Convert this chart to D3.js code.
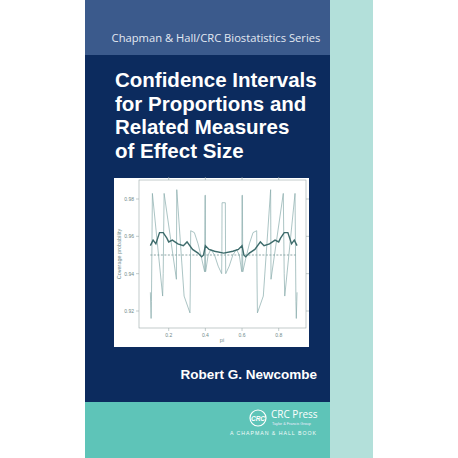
<!DOCTYPE html>
<html><head><meta charset="utf-8">
<script src="https://cdn.jsdelivr.net/npm/d3@7"></script>
<style>body{margin:0;background:#fff}</style>
</head><body>
<svg id="c" width="458" height="458"></svg>
<script>
// coverage curves, left half (pi <= 0.5); right half is the mirror image
var jaggedPi  = [0.100,0.104,0.106,0.111,0.167,0.170,0.175,0.242,0.244,0.284,0.316,0.318,0.320,0.340,0.360,0.380,0.396,0.398,0.400,0.401,0.403,0.415,0.430,0.450,0.470,0.489,0.490,0.491]
var jaggedCov = [0.930,0.916,0.925,0.983,0.928,0.940,0.983,0.937,0.985,0.928,0.919,0.935,0.963,0.962,0.956,0.948,0.941,0.982,0.982,0.941,0.942,0.950,0.953,0.950,0.944,0.940,0.950,0.978]
var meanPi  = [0.100,0.115,0.130,0.150,0.170,0.190,0.200,0.220,0.250,0.280,0.300,0.330,0.360,0.380,0.390,0.400,0.420,0.450,0.500]
var meanCov = [0.955,0.958,0.956,0.962,0.962,0.959,0.957,0.958,0.956,0.955,0.957,0.953,0.951,0.949,0.950,0.955,0.953,0.952,0.951]
var xTicks = [0.2,0.4,0.6,0.8]
var yTicks = [0.92,0.94,0.96,0.98]
var titleLines = ['Confidence Intervals','for Proportions and','Related Measures','of Effect Size']

function mirror(px, py) {
	var pts = px.map(function(d,i){ return [d, py[i]] })
	var back = pts.slice().reverse().map(function(d){ return [1 - d[0], d[1]] })
	return pts.concat(back)
}

var svg = d3.select('#c')
var F = 'Liberation Sans, Arial, sans-serif'

// cover blocks
svg.append('rect').attr('x',85).attr('y',0).attr('width',245).attr('height',55).attr('fill','#3b5a8c')
svg.append('rect').attr('x',85).attr('y',55).attr('width',245).attr('height',347).attr('fill','#0c2b5e')
svg.append('rect').attr('x',85).attr('y',402).attr('width',245).attr('height',56).attr('fill','#5ec4b8')
svg.append('rect').attr('x',330).attr('y',0).attr('width',43).attr('height',458).attr('fill','#b3e0da')

svg.append('text').attr('x',216).attr('y',42).attr('text-anchor','middle')
	.attr('font-family','Open Sans, sans-serif').attr('font-size',11.2).attr('fill','#e3e9f2')
	.text('Chapman & Hall/CRC Biostatistics Series')

svg.selectAll('.t').data(titleLines).enter().append('text')
	.attr('x',115).attr('y',function(d,i){ return 87 + i*23.5 })
	.attr('font-family',F).attr('font-weight','bold').attr('font-size',20.5).attr('fill','#fff')
	.text(function(d){ return d })

// chart panel
svg.append('rect').attr('x',114).attr('y',178).attr('width',195).attr('height',169).attr('fill','#fff')

var x = d3.scaleLinear().domain([0.2,0.8]).range([168.7,278.7])
var y = d3.scaleLinear().domain([0.92,0.98]).range([311,199])
var x0 = 139, x1 = 306, y0 = 180, y1 = 328

var g = svg.append('g')
g.append('rect').attr('x',x0).attr('y',y0).attr('width',x1-x0).attr('height',y1-y0)
	.attr('fill','none').attr('stroke','#9aa9a9').attr('stroke-width',0.6)

var tk = g.append('g').attr('stroke','#9aa9a9').attr('stroke-width',0.6)
xTicks.forEach(function(t){
	tk.append('line').attr('x1',x(t)).attr('x2',x(t)).attr('y1',y1).attr('y2',y1+3)
	tk.append('line').attr('x1',x(t)).attr('x2',x(t)).attr('y1',y0).attr('y2',y0-3)
	g.append('text').attr('x',x(t)).attr('y',y1+9).attr('text-anchor','middle')
		.attr('font-family',F).attr('font-size',5).attr('fill','#6f8a8a').text(t.toFixed(1))
})
yTicks.forEach(function(t){
	tk.append('line').attr('x1',x0).attr('x2',x0-3).attr('y1',y(t)).attr('y2',y(t))
	tk.append('line').attr('x1',x1).attr('x2',x1+3).attr('y1',y(t)).attr('y2',y(t))
	g.append('text').attr('x',x0-5).attr('y',y(t)+2).attr('text-anchor','end')
		.attr('font-family',F).attr('font-size',5).attr('fill','#6f8a8a').text(t.toFixed(2))
})
g.append('text').attr('x',222).attr('y',342).attr('text-anchor','middle')
	.attr('font-family',F).attr('font-size',5.5).attr('fill','#6f8a8a').text('pi')
g.append('text').attr('transform','translate(121,254) rotate(-90)').attr('text-anchor','middle')
	.attr('font-family',F).attr('font-size',5.5).attr('fill','#6f8a8a').text('Coverage probability')

var line = d3.line().x(function(d){ return x(d[0]) }).y(function(d){ return y(d[1]) })

g.append('line').attr('x1',x(0.1)).attr('x2',x(0.9)).attr('y1',y(0.95)).attr('y2',y(0.95))
	.attr('stroke','#6f8f8f').attr('stroke-width',0.8).attr('stroke-dasharray','2,1.5')
g.append('path').datum(mirror(jaggedPi, jaggedCov)).attr('d',line)
	.attr('fill','none').attr('stroke','#86aaaa').attr('stroke-width',0.7)
g.append('path').datum(mirror(meanPi, meanCov)).attr('d',line)
	.attr('fill','none').attr('stroke','#3d6b6b').attr('stroke-width',1.4)

// author and publisher
svg.append('text').attr('x',317).attr('y',379).attr('text-anchor','end')
	.attr('font-family',F).attr('font-weight','bold').attr('font-size',13.5).attr('fill','#fff')
	.text('Robert G. Newcombe')

svg.append('circle').attr('cx',258).attr('cy',418).attr('r',8)
	.attr('fill','none').attr('stroke','#fff').attr('stroke-width',1.2)
svg.append('text').attr('x',258).attr('y',420.5).attr('text-anchor','middle')
	.attr('font-family',F).attr('font-style','italic').attr('font-weight','bold').attr('font-size',6.5).attr('fill','#fff').text('CRC')
svg.append('text').attr('x',271).attr('y',418).attr('font-family','Open Sans, sans-serif')
	.attr('font-size',10).attr('fill','#fff').text('CRC Press')
svg.append('text').attr('x',272).attr('y',425).attr('font-family',F)
	.attr('font-size',3.8).attr('fill','#eef').text('Taylor & Francis Group')
svg.append('text').attr('x',317).attr('y',435).attr('text-anchor','end').attr('font-family',F)
	.attr('font-size',5.2).attr('letter-spacing',1).attr('fill','#f4fbfa').text('A CHAPMAN & HALL BOOK')
</script>
</body></html>
